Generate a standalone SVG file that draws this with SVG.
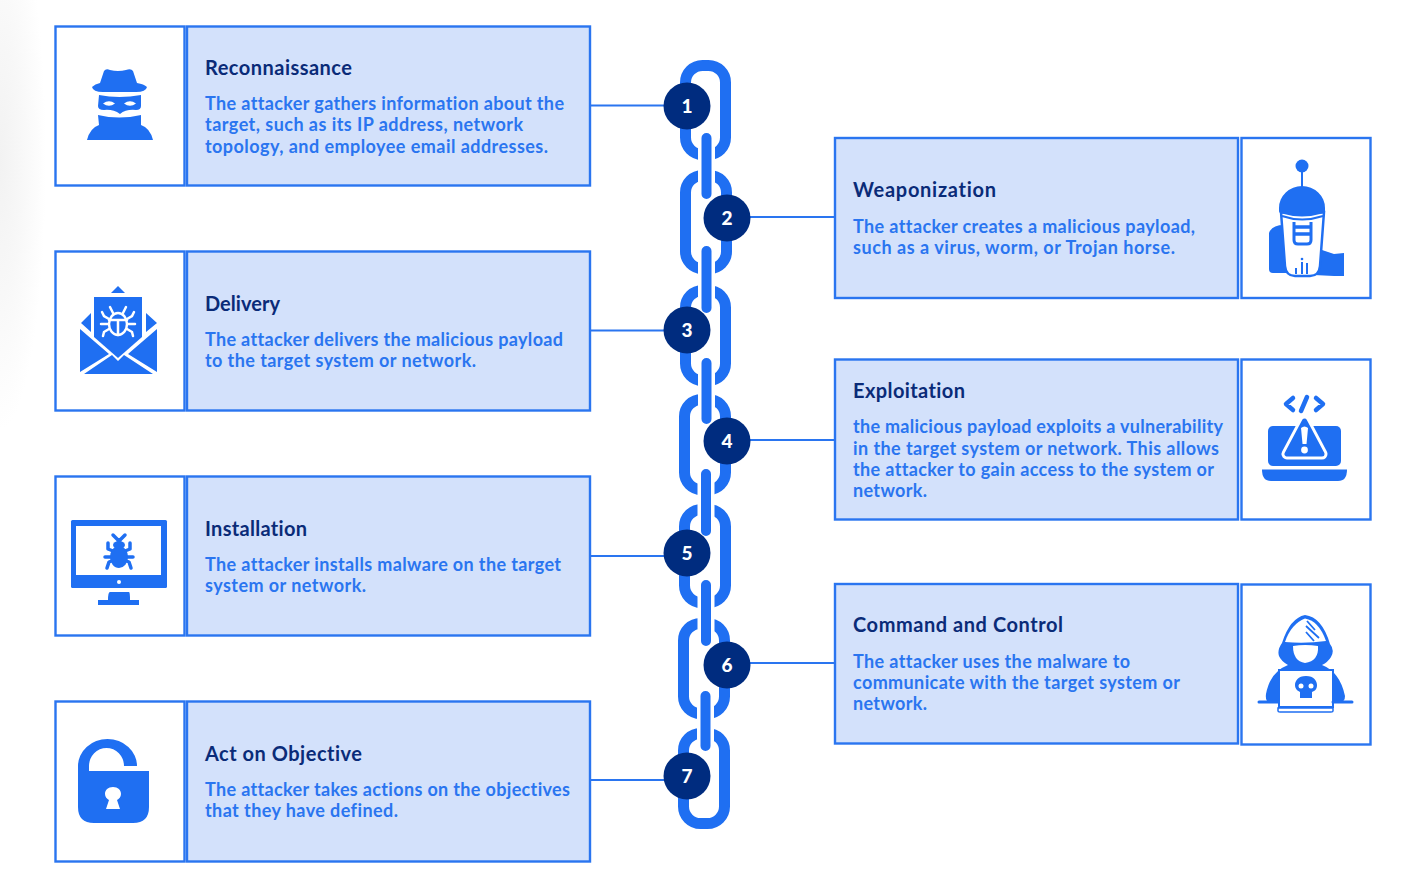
<svg xmlns="http://www.w3.org/2000/svg" width="1402" height="890" viewBox="0 0 1402 890">
<defs>
<style>
.box{fill:#d3e1fb;stroke:#2a75f0;stroke-width:2.400}
.ic{fill:#fff;stroke:#2a75f0;stroke-width:2.400}
.b{fill:#1f6ff2}
.w{fill:#fff}
.t{font-family:"Lato","Liberation Sans",sans-serif;font-weight:700;font-size:20px;fill:#0a2b78;font-variant-ligatures:none}
.d{font-family:"Lato","Liberation Sans",sans-serif;font-weight:700;font-size:18px;fill:#2a75f0;font-variant-ligatures:none}
.n{font-family:"Lato","Liberation Sans",sans-serif;font-weight:900;font-size:19px;fill:#fff;text-anchor:middle}
.c{fill:#002c7f}
.ln{stroke:#2a75f0;stroke-width:2;fill:none}
.lk{fill:none;stroke:#1f6ff2;stroke-width:11}
.bar{stroke:#1f6ff2;stroke-width:10;stroke-linecap:round}
.halo{stroke:#fff;stroke-width:17;stroke-linecap:butt}
.wl{stroke:#fff;fill:none}
.bl{stroke:#1f6ff2;fill:none}
</style>
<radialGradient id="edge" gradientUnits="userSpaceOnUse" cx="0" cy="0" r="1" gradientTransform="translate(0 160) scale(46 270)"><stop offset="0" stop-color="#f2f2f2"/><stop offset="0.5" stop-color="#f8f8f8"/><stop offset="1" stop-color="#fff"/></radialGradient>
<g id="bug" class="wl" stroke-width="2.500" stroke-linecap="round">
<ellipse cx="0" cy="2" rx="9" ry="11"/>
<path d="M-9 -2H9M0 -2V13M-5 -9L-8 -15M5 -9L8 -15M-9 -3L-14 -6L-16 -10M9 -3L14 -6L16 -10M-10 2H-17M10 2H17M-9 7L-14 10L-15 14M9 7L14 10L15 14"/>
</g>
</defs>
<rect x="0" y="0" width="50" height="440" fill="url(#edge)"/>

<g id="connectors">
<path class="ln" d="M590 105.500H665M590 330.500H665M590 556H665M590 780H665M750 217H835M750 440H835M750 663H835"/>
</g>

<g id="chain">
<rect class="lk" x="685.500" y="65.500" width="40" height="89" rx="17"/>
<rect class="lk" x="685.500" y="175.500" width="41" height="93" rx="17"/>
<rect class="lk" x="685.500" y="290.500" width="40" height="90" rx="17"/>
<rect class="lk" x="684.500" y="399.500" width="41" height="90" rx="17"/>
<rect class="lk" x="684.500" y="509.500" width="41" height="93" rx="17"/>
<rect class="lk" x="683.500" y="623.500" width="41" height="90" rx="17"/>
<rect class="lk" x="683.500" y="733.500" width="41" height="90" rx="17"/>
<path class="halo" d="M706.500 136V196M706.500 249V310M706.500 361V421M706 472V533M706 583V643M705.500 694V754"/>
<path class="bar" d="M706.500 138V194M706.500 251V308M706.500 363V419M706 474V531M706 585V641M705.500 696V746"/>
</g>

<g id="node-1">
<rect class="ic" x="55.500" y="26.500" width="129" height="159"/><rect class="box" x="187" y="26.500" width="403" height="159"/>
<path class="b" d="M100 83L104 71Q106 68 110 70Q118 72 126 70Q131 68 133 71L137 83Q144 84 147 87Q146 92 136 92H103Q93 92 92 87Q95 84 100 83Z"/>
<path class="b" fill-rule="evenodd" d="M99 95Q119 99 141 95V106Q141 110 136 110Q126 109 120 114Q113 109 104 110Q98 110 98 106ZM103 103.500Q109 99 115 103.500Q109 108 103 103.500ZM124 103.500Q130 99 136 103.500Q130 108 124 103.500Z"/>
<path class="b" d="M98 115Q119 120 141 115V125Q150 128 153 140H87Q90 128 99 125Z"/>
<text class="t" x="205" y="75" textLength="147">Reconnaissance</text>
<text class="d" x="205" y="110" textLength="359">The attacker gathers information about the</text>
<text class="d" x="205" y="131" textLength="318">target, such as its IP address, network</text>
<text class="d" x="205" y="152.500" textLength="343">topology, and employee email addresses.</text>
<circle class="c" cx="687" cy="106" r="23.500"/><text class="n" x="687" y="113">1</text>
</g>

<g id="node-2">
<rect class="box" x="835" y="138" width="403" height="160"/><rect class="ic" x="1241.500" y="138" width="129" height="160"/>
<path class="b" d="M1284 225Q1272 225 1269 233V269Q1269 273 1273 273H1290V225ZM1316 248L1334 254L1344 253V276L1334 276L1314 275Z"/>
<path class="w" d="M1281 212H1324L1320 266Q1319 276 1310 276H1295Q1286 276 1285 266Z" stroke="#1f6ff2" stroke-width="2.500"/>
<circle class="b" cx="1302" cy="166" r="6.500"/><rect class="b" x="1301" y="170" width="2" height="18"/>
<path class="b" d="M1279 208A23 22 0 0 1 1325 208V211Q1325 214 1320 214Q1302 219 1284 214Q1279 214 1279 211Z"/>
<path class="bl" stroke-width="2" d="M1282 216Q1302 223 1323 216"/>
<path class="bl" stroke-width="3" d="M1294 222V240Q1294 244 1298 244H1307Q1311 244 1311 240V222"/>
<path class="bl" stroke-width="3.500" d="M1295 227H1310M1295 234H1310"/>
<path class="bl" stroke-width="2" d="M1296 274V268M1302 274V262M1307 274V263"/>
<circle class="b" cx="1302" cy="259" r="1.300"/>
<text class="t" x="853" y="197" textLength="143">Weaponization</text>
<text class="d" x="853" y="232.500" textLength="342">The attacker creates a malicious payload,</text>
<text class="d" x="853" y="253.500" textLength="322">such as a virus, worm, or Trojan horse.</text>
<circle class="c" cx="727" cy="218" r="23.500"/><text class="n" x="727" y="225">2</text>
</g>

<g id="node-3">
<rect class="ic" x="55.500" y="251.500" width="129" height="159"/><rect class="box" x="187" y="251.500" width="403" height="159"/>
<path class="b" d="M118 286L125 293H111Z"/>
<path class="b" d="M94 297H142V337L118 358L94 337Z"/>
<path class="b" d="M91 313V332L81 323ZM146 313V332L157 323Z"/>
<path class="b" d="M80 329L109 354L80 372ZM157 329L128 354L157 372ZM84 374L112 355L118 361L124 355L153 374Z"/>
<use href="#bug" x="118" y="322"/>
<text class="t" x="205" y="311" textLength="75">Delivery</text>
<text class="d" x="205" y="346" textLength="358">The attacker delivers the malicious payload</text>
<text class="d" x="205" y="367" textLength="271">to the target system or network.</text>
<circle class="c" cx="687" cy="330" r="23.500"/><text class="n" x="687" y="337">3</text>
</g>

<g id="node-4">
<rect class="box" x="835" y="359.500" width="403" height="160"/><rect class="ic" x="1241.500" y="359.500" width="129" height="160"/>
<path class="bl" stroke-width="4.500" stroke-linecap="round" stroke-linejoin="round" d="M1293 398L1286 404L1293 410M1316 398L1323 404L1316 410M1307 397L1301 411"/>
<rect class="b" x="1268" y="426" width="73" height="40" rx="5"/>
<path class="b" d="M1262 469.500H1347Q1347 481 1338 481H1271Q1262 481 1262 469.500Z"/>
<path d="M1304.500 421L1287 454H1322Z" fill="none" stroke="#fff" stroke-width="11" stroke-linejoin="round"/>
<path d="M1304.500 421L1287 454H1322Z" fill="#1f6ff2" stroke="#1f6ff2" stroke-width="5" stroke-linejoin="round"/>
<path class="w" d="M1301 428Q1304.500 425 1308 428L1306.500 444H1302.500Z"/><circle class="w" cx="1304.500" cy="450" r="3.400"/>
<text class="t" x="853" y="398" textLength="112">Exploitation</text>
<text class="d" x="853" y="433" textLength="370">the malicious payload exploits a vulnerability</text>
<text class="d" x="853" y="454.500" textLength="366">in the target system or network. This allows</text>
<text class="d" x="853" y="475.500" textLength="361">the attacker to gain access to the system or</text>
<text class="d" x="853" y="496.500" textLength="74">network.</text>
<circle class="c" cx="727" cy="441" r="23.500"/><text class="n" x="727" y="448">4</text>
</g>

<g id="node-5">
<rect class="ic" x="55.500" y="476.500" width="129" height="159"/><rect class="box" x="187" y="476.500" width="403" height="159"/>
<rect class="b" x="71" y="520" width="96" height="68" rx="1.500"/><rect class="w" x="76" y="526" width="85" height="49"/>
<circle class="w" cx="119" cy="582" r="2"/>
<path class="b" d="M110 592H129Q130 592 130 600H139V605H98V600H108Q108 592 110 592Z"/>
<g class="bl" stroke-width="3.500" stroke-linecap="round" stroke-linejoin="round"><path d="M113 535L119 541L125 535M108 543V549L113 551M130 543V549L125 551M105 557H113M133 557H125M107 568L109 562L114 560M131 568L129 562L124 560"/></g>
<ellipse class="b" cx="119" cy="557" rx="9" ry="11"/><ellipse class="b" cx="119" cy="545" rx="6" ry="4"/>
<text class="t" x="205" y="536" textLength="102">Installation</text>
<text class="d" x="205" y="571" textLength="356">The attacker installs malware on the target</text>
<text class="d" x="205" y="592" textLength="161">system or network.</text>
<circle class="c" cx="687" cy="553" r="23.500"/><text class="n" x="687" y="560">5</text>
</g>

<g id="node-6">
<rect class="box" x="835" y="584" width="403" height="159.500"/><rect class="ic" x="1241.500" y="584.500" width="129" height="160"/>
<path class="b" d="M1305 615Q1322 617 1330 644Q1335 650 1331 657Q1328 662 1322 665Q1340 672 1345 696Q1345 702 1340 702H1270Q1265 702 1266 694Q1270 672 1288 665Q1281 661 1279 656Q1277 650 1282 643Q1290 618 1305 615Z"/>
<path class="w" d="M1285 642Q1291 624 1305 618.500Q1319 621 1326 641Q1305 644 1285 642Z"/>
<path class="bl" stroke-width="1.800" d="M1307 621L1315 630M1306 626L1319 638M1306 632L1314 641"/>
<path class="w" d="M1293 646Q1305 644 1318 646Q1319 661 1305 663Q1293 661 1293 646Z"/>
<path class="w" d="M1279 670H1333V707H1279Z" stroke="#1f6ff2" stroke-width="2"/>
<path class="bl" stroke-width="3" stroke-linecap="round" d="M1259 702H1278M1333 702H1352"/>
<path class="w" d="M1278 708H1333V711Q1333 712 1331 712H1280Q1278 712 1278 711Z" stroke="#1f6ff2" stroke-width="1.500"/>
<path class="b" d="M1306 676C1298 676 1295 681 1295 685C1295 689 1298 691 1300 692V698H1312V692C1315 691 1317 689 1317 685C1317 681 1314 676 1306 676Z"/>
<circle class="w" cx="1301" cy="686" r="2.500"/><circle class="w" cx="1311" cy="686" r="2.500"/>
<text class="t" x="853" y="632" textLength="210">Command and Control</text>
<text class="d" x="853" y="667.500" textLength="277">The attacker uses the malware to</text>
<text class="d" x="853" y="688.500" textLength="327">communicate with the target system or</text>
<text class="d" x="853" y="709.500" textLength="74">network.</text>
<circle class="c" cx="727" cy="665" r="23.500"/><text class="n" x="727" y="672">6</text>
</g>

<g id="node-7">
<rect class="ic" x="55.500" y="701.500" width="129" height="160"/><rect class="box" x="187" y="701.500" width="403" height="160"/>
<path class="b" fill-rule="evenodd" d="M78 771V766A29.500 27 0 0 1 137 766H124A17.500 18 0 0 0 89 766V771H149V807Q149 823 133 823H94Q78 823 78 807ZM113 787C108 787 105 790 105 794C105 797 107 799 109 800L106 809H120L117 800C119 799 121 797 121 794C121 790 118 787 113 787Z"/>
<text class="t" x="205" y="761" textLength="157">Act on Objective</text>
<text class="d" x="205" y="796" textLength="365">The attacker takes actions on the objectives</text>
<text class="d" x="205" y="817" textLength="193">that they have defined.</text>
<circle class="c" cx="687" cy="776" r="23.500"/><text class="n" x="687" y="783">7</text>
</g>
</svg>
